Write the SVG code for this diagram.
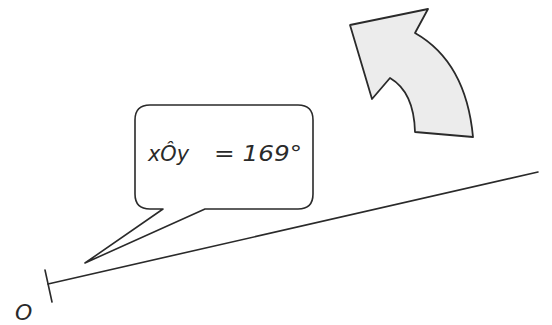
<svg xmlns="http://www.w3.org/2000/svg" width="552" height="325" viewBox="0 0 552 325">
<style>
.ln{fill:none;stroke:#2a2a2a;stroke-width:1.6;stroke-linejoin:round;stroke-linecap:round}
.t{font-family:"DejaVu Sans",sans-serif;font-style:italic;fill:#2a2a2a}
</style>
<rect width="552" height="325" fill="#ffffff"/>
<g id="ray">
<line class="ln" x1="48" y1="284" x2="538" y2="172"/>
<line class="ln" x1="45" y1="270" x2="52" y2="302"/>
</g>
<g id="label-O"><text class="t" x="15" y="320" font-size="22">O</text></g>
<g id="arrow">
<path d="M350 25 L428 9 L415 33 Q466 62 473 137 L415 132 Q414 92 390 78 L372 99 Z" fill="#ececec" stroke="#2a2a2a" stroke-width="1.8" stroke-linejoin="round"/>
</g>
<g id="bubble">
<path class="ln" d="M205 209 L298 209 Q313 209 313 194 L313 120 Q313 105 298 105 L150 105 Q135 105 135 120 L135 194 Q135 209 150 209 L163 209 L85 263 Z" fill="#ffffff"/>
<text class="t" y="161" font-size="21"><tspan x="148" textLength="41" lengthAdjust="spacingAndGlyphs">xÔy</tspan><tspan x="214" textLength="88" lengthAdjust="spacingAndGlyphs">= 169°</tspan></text>
</g>
</svg>
